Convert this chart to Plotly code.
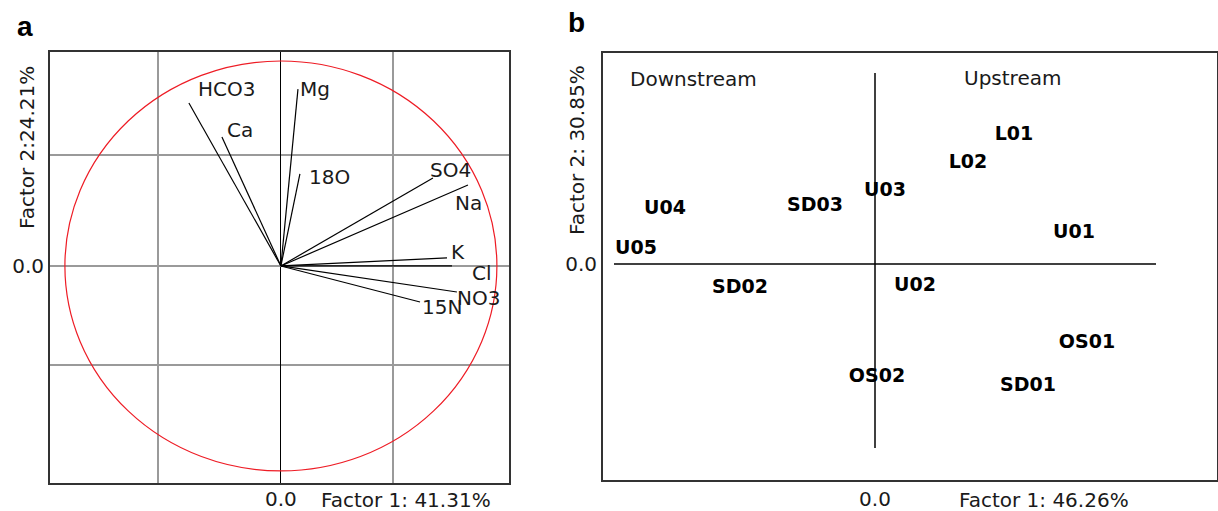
import plotly.graph_objects as go

W, H = 1218, 511

# ---------------- Panel a: variable loadings ----------------
variables = ["HCO3", "Ca", "Mg", "18O", "SO4", "Na", "K", "Cl", "NO3", "15N"]
load_f1 = [-0.426, -0.273, 0.079, 0.088, 0.704, 0.866, 0.769, 0.792, 0.815, 0.644]
load_f2 = [0.795, 0.629, 0.863, 0.449, 0.429, 0.395, 0.039, 0.0, -0.127, -0.176]
a_grid_x = [-0.569, 0.0, 0.519]
a_grid_y = [-0.483, 0.0, 0.541]
a_tick_text = ["", "0.0", ""]
a_xtitle = "Factor 1: 41.31%"
a_ytitle = "Factor 2:24.21%"

# ---------------- Panel b: sample scores ----------------
samples = ["U05", "U04", "SD03", "U03", "SD02", "U02", "L01", "L02", "U01", "OS01", "OS02", "SD01"]
score_f1 = [-2.39, -2.10, -0.60, 0.10, -1.35, 0.40, 1.39, 0.93, 1.99, 2.12, 0.02, 1.53]
score_f2 = [0.15, 0.55, 0.58, 0.73, -0.24, -0.22, 1.29, 1.01, 0.31, -0.79, -1.13, -1.22]
b_xtitle = "Factor 1: 46.26%"
b_ytitle = "Factor 2: 30.85%"
b_regions = ["Downstream", "Upstream"]

# label offsets for panel a (pixels, style only)
label_dx = [7, 3, 0, 7, -5, -15, 2, 18, -2, 0]
label_dy = [14, 7, 0, -3, 8, -18, 6, -7, -6, -5]

FONT = "DejaVu Sans"
TXT = "#1a1a1a"
FS = 20

fig = go.Figure()

# loading vectors
vx, vy = [], []
for x, y in zip(load_f1, load_f2):
    vx += [0, x, None]
    vy += [0, y, None]
fig.add_trace(go.Scatter(x=vx, y=vy, mode="lines", line=dict(color="black", width=1.2),
                         xaxis="x", yaxis="y", hoverinfo="skip", showlegend=False))

# sample labels
fig.add_trace(go.Scatter(x=score_f1, y=score_f2, mode="text", text=samples,
                         textposition="middle center",
                         textfont=dict(family=FONT, size=19, color="black", weight="bold"),
                         xaxis="x2", yaxis="y2", showlegend=False))

def px_x(p):
    return p / W

def px_y(p):
    return 1 - p / H

a_xdom = [px_x(50), px_x(509)]
a_ydom = [px_y(483), px_y(52)]
b_xdom = [px_x(603), px_x(1217)]
b_ydom = [px_y(480), px_y(53)]

axis_line = dict(showline=True, linecolor="#333333", linewidth=2, mirror=True)

fig.update_layout(
    width=W, height=H,
    margin=dict(l=0, r=0, t=0, b=0, autoexpand=False),
    paper_bgcolor="white", plot_bgcolor="white",
    showlegend=False,
    xaxis=dict(domain=a_xdom, range=[-1.069, 1.056], tickvals=a_grid_x, ticktext=a_tick_text,
               showgrid=True, gridcolor="#9a9a9a", gridwidth=1.5,
               zeroline=True, zerolinecolor="black", zerolinewidth=1.2,
               ticks="", ticklabelstandoff=-3,
               tickfont=dict(family=FONT, size=FS, color=TXT), anchor="y", **axis_line),
    yaxis=dict(domain=a_ydom, range=[-1.059, 1.044], tickvals=a_grid_y, ticktext=a_tick_text,
               showgrid=True, gridcolor="#9a9a9a", gridwidth=1.5,
               zeroline=True, zerolinecolor="#9a9a9a", zerolinewidth=1.5,
               ticks="", tickfont=dict(family=FONT, size=FS, color=TXT), anchor="x", **axis_line),
    xaxis2=dict(domain=b_xdom, range=[-2.72, 3.42], tickvals=[0], ticktext=["0.0"],
                showgrid=False, zeroline=False, ticks="",
                tickfont=dict(family=FONT, size=FS, color=TXT), anchor="y2", **axis_line),
    yaxis2=dict(domain=b_ydom, range=[-2.16, 2.11], tickvals=[0], ticktext=["0.0"],
                showgrid=False, zeroline=False, ticks="",
                tickfont=dict(family=FONT, size=FS, color=TXT), anchor="x2", **axis_line),
)

# unit circle
fig.add_shape(type="circle", xref="x", yref="y", x0=-1, y0=-1, x1=1, y1=1,
              line=dict(color="#ee1c25", width=1.2), layer="above")

# cross lines panel b
fig.add_shape(type="line", xref="x2", yref="y2", x0=-2.61, x1=2.81, y0=0, y1=0,
              line=dict(color="black", width=1.5))
fig.add_shape(type="line", xref="x2", yref="y2", x0=0, x1=0, y0=-1.84, y1=1.91,
              line=dict(color="black", width=1.5))

# variable labels
for name, x, y, dx, dy in zip(variables, load_f1, load_f2, label_dx, label_dy):
    fig.add_annotation(x=x, y=y, xref="x", yref="y", text=name, showarrow=False,
                       xanchor="left", yanchor="middle", xshift=dx, yshift=dy,
                       font=dict(family=FONT, size=FS, color=TXT))

def ann(text, x, y, **kw):
    font = kw.pop("font", dict(family=FONT, size=FS, color=TXT))
    fig.add_annotation(text=text, x=px_x(x), y=px_y(y), xref="paper", yref="paper",
                       showarrow=False, font=font, **kw)

# axis titles
ann(a_xtitle, 319, 500, xanchor="left", yanchor="middle")
ann(a_ytitle, 27, 148, xanchor="center", yanchor="middle", textangle=-90)
ann(b_xtitle, 957, 500, xanchor="left", yanchor="middle")
ann(b_ytitle, 577, 150, xanchor="center", yanchor="middle", textangle=-90)

# region labels
ann(b_regions[0], 628, 79, xanchor="left", yanchor="middle")
ann(b_regions[1], 962, 78, xanchor="left", yanchor="middle")

# panel letters
pl_font = dict(family="Liberation Sans", size=28, color="black", weight="bold")
ann("a", 15, 26, xanchor="left", yanchor="middle", font=pl_font)
ann("b", 566, 22, xanchor="left", yanchor="middle", font=pl_font)

fig.write_html("out.html")
